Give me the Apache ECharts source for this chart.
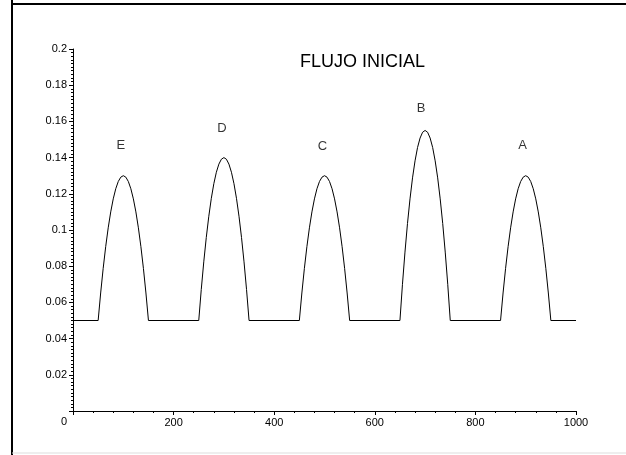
<!DOCTYPE html>
<html>
<head>
<meta charset="utf-8">
<script src="https://cdn.jsdelivr.net/npm/echarts@6/dist/echarts.min.js"></script>
<style>
  html, body { margin: 0; padding: 0; background: #fff; }
  #chart { width: 626px; height: 455px; }
</style>
</head>
<body>
<div id="chart"></div>
<script>
// Initial flow profile: five parabolic pulses on a 0.05 baseline
const xPos = [
  0, 50, 55, 60, 65, 70, 75, 80, 85, 90, 95, 100, 105, 110, 115, 120, 125, 130, 135, 140, 145, 150,
  250, 255, 260, 265, 270, 275, 280, 285, 290, 295, 300, 305, 310, 315, 320, 325, 330, 335, 340, 345, 350,
  450, 455, 460, 465, 470, 475, 480, 485, 490, 495, 500, 505, 510, 515, 520, 525, 530, 535, 540, 545, 550,
  650, 655, 660, 665, 670, 675, 680, 685, 690, 695, 700, 705, 710, 715, 720, 725, 730, 735, 740, 745, 750,
  850, 855, 860, 865, 870, 875, 880, 885, 890, 895, 900, 905, 910, 915, 920, 925, 930, 935, 940, 945, 950,
  1000
];
const flow = [
  0.05, 0.05, 0.0652, 0.0788, 0.0908, 0.1012, 0.11, 0.1172, 0.1228, 0.1268, 0.1292, 0.13, 0.1292, 0.1268, 0.1228, 0.1172, 0.11, 0.1012, 0.0908, 0.0788, 0.0652, 0.05,
  0.05, 0.0671, 0.0824, 0.0959, 0.1076, 0.1175, 0.1256, 0.1319, 0.1364, 0.1391, 0.14, 0.1391, 0.1364, 0.1319, 0.1256, 0.1175, 0.1076, 0.0959, 0.0824, 0.0671, 0.05,
  0.05, 0.0652, 0.0788, 0.0908, 0.1012, 0.11, 0.1172, 0.1228, 0.1268, 0.1292, 0.13, 0.1292, 0.1268, 0.1228, 0.1172, 0.11, 0.1012, 0.0908, 0.0788, 0.0652, 0.05,
  0.05, 0.07, 0.0878, 0.1036, 0.1172, 0.1288, 0.1382, 0.1456, 0.1508, 0.154, 0.155, 0.154, 0.1508, 0.1456, 0.1382, 0.1288, 0.1172, 0.1036, 0.0878, 0.07, 0.05,
  0.05, 0.0652, 0.0788, 0.0908, 0.1012, 0.11, 0.1172, 0.1228, 0.1268, 0.1292, 0.13, 0.1292, 0.1268, 0.1228, 0.1172, 0.11, 0.1012, 0.0908, 0.0788, 0.0652, 0.05,
  0.05
];

// Pulse names and where each name sits
const pulseNames = ['E', 'D', 'C', 'B', 'A'];
const nameX = [95, 296, 496, 692, 894];
const nameY = [0.147, 0.156, 0.146, 0.167, 0.147];

const xTicks = [0, 200, 400, 600, 800, 1000];
const yTicks = [0, 0.02, 0.04, 0.06, 0.08, 0.1, 0.12, 0.14, 0.16, 0.18, 0.2];

const font = 'Liberation Sans, Arial, sans-serif';

const chart = echarts.init(document.getElementById('chart'), null, { renderer: 'canvas' });

chart.setOption({
  animation: false,
  backgroundColor: '#fff',
  title: {
    text: 'FLUJO INICIAL',
    left: 295,
    top: 48,
    textStyle: { fontFamily: font, fontSize: 18, fontWeight: 'normal', color: '#000' }
  },
  grid: { left: 73, right: 50, top: 49, bottom: 44 },
  xAxis: {
    type: 'value',
    min: xTicks[0],
    max: xTicks[xTicks.length - 1],
    interval: xTicks[1] - xTicks[0],
    axisLine: { lineStyle: { color: '#000', width: 1 } },
    axisTick: { length: 4, lineStyle: { color: '#000' } },
    minorTick: { show: true, splitNumber: 5, length: 2, lineStyle: { color: '#000' } },
    splitLine: { show: false },
    axisLabel: {
      margin: 6,
      color: '#000',
      fontFamily: font,
      fontSize: 11,
      formatter: v => (v === 0 ? '' : String(v))
    }
  },
  yAxis: {
    type: 'value',
    min: yTicks[0],
    max: yTicks[yTicks.length - 1],
    interval: yTicks[1] - yTicks[0],
    axisLine: { show: true, lineStyle: { color: '#000', width: 1 } },
    axisTick: { show: true, length: 4, lineStyle: { color: '#000' } },
    minorTick: { show: true, splitNumber: 10, length: 2, lineStyle: { color: '#000' } },
    splitLine: { show: false },
    axisLabel: {
      margin: 6,
      color: '#000',
      fontFamily: font,
      fontSize: 11,
      formatter: v => (v === 0 ? '{z|0}' : String(+v.toFixed(3))),
      rich: { z: { fontFamily: font, fontSize: 11, color: '#000', padding: [22, 0, 0, 0] } }
    }
  },
  graphic: [
    { type: 'line', shape: { x1: 12, y1: 0, x2: 12, y2: 455 }, style: { stroke: '#000', lineWidth: 2 } },
    { type: 'line', shape: { x1: 12, y1: 4, x2: 626, y2: 4 }, style: { stroke: '#000', lineWidth: 2 } },
    { type: 'line', shape: { x1: 12, y1: 453, x2: 626, y2: 453 }, style: { stroke: '#ddd', lineWidth: 1 } }
  ],
  series: [
    {
      type: 'line',
      data: xPos.map((x, i) => [x, flow[i]]),
      showSymbol: false,
      lineStyle: { color: '#000', width: 1 },
      silent: true
    },
    {
      type: 'scatter',
      data: pulseNames.map((n, i) => ({ value: [nameX[i], nameY[i]], name: n })),
      symbolSize: 0,
      silent: true,
      label: {
        show: true,
        position: 'inside',
        formatter: p => p.name,
        color: '#000',
        fontFamily: font,
        fontSize: 13
      }
    }
  ]
});
</script>
</body>
</html>
